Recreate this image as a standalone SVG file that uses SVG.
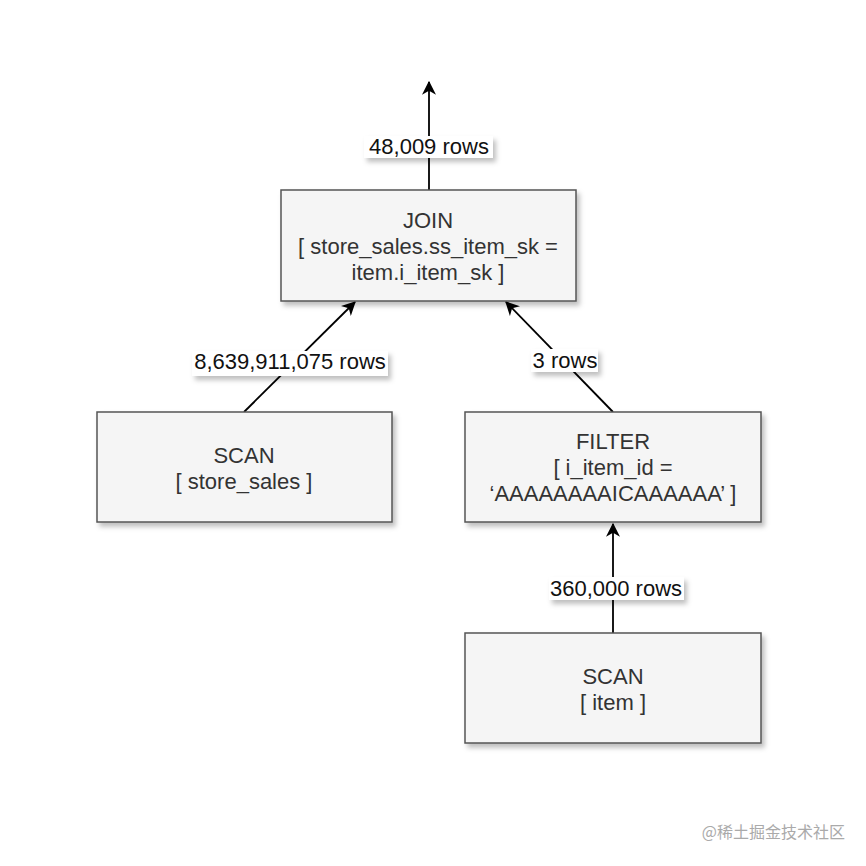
<svg xmlns="http://www.w3.org/2000/svg" width="866" height="866" viewBox="0 0 866 866">
<style>
.box{fill:#f5f5f5;stroke:#555;stroke-width:1.5}
.t{font-family:"Liberation Sans",Arial,sans-serif;font-size:22px;fill:#333;text-anchor:middle}
.lb{fill:#fff}
.lt{font-family:"Liberation Sans",Arial,sans-serif;font-size:22px;fill:#111;text-anchor:middle}
.e{stroke:#000;stroke-width:1.8;fill:none;marker-end:url(#ah)}
</style>
<defs>
<filter id="sh" x="-10%" y="-10%" width="130%" height="140%">
<feDropShadow dx="3" dy="4" stdDeviation="2.5" flood-color="#000" flood-opacity="0.25"/>
</filter>
<marker id="ah" viewBox="0 0 12 12" refX="11" refY="6" markerWidth="14" markerHeight="14" markerUnits="userSpaceOnUse" orient="auto">
<path d="M0,0 L12,6 L0,12 L3.5,6 Z" fill="#000"/>
</marker>
</defs>
<rect width="866" height="866" fill="#fff"/>
<g id="connectors">
<line class="e" x1="429" y1="190" x2="429" y2="82"/>
<line class="e" x1="244" y1="412" x2="355" y2="302"/>
<line class="e" x1="613" y1="412" x2="506" y2="302"/>
<line class="e" x1="613" y1="633" x2="613" y2="524"/>
<g filter="url(#sh)">
<rect class="lb" x="364" y="136" width="129" height="22"/>
<rect class="lb" x="192" y="351" width="196" height="25"/>
<rect class="lb" x="531" y="349" width="67" height="23"/>
<rect class="lb" x="549" y="577" width="135" height="23"/>
</g>
<text class="lt" x="429" y="154">48,009 rows</text>
<text class="lt" x="290" y="369">8,639,911,075 rows</text>
<text class="lt" x="565" y="368">3 rows</text>
<text class="lt" x="616" y="596">360,000 rows</text>
</g>
<g id="join">
<rect class="box" x="281" y="190" width="295" height="111" filter="url(#sh)"/>
<text class="t" x="428" y="228">JOIN</text>
<text class="t" x="428" y="254">[ store_sales.ss_item_sk =</text>
<text class="t" x="428" y="280">item.i_item_sk ]</text>
</g>
<g id="scan_store_sales">
<rect class="box" x="97" y="412" width="295" height="110" filter="url(#sh)"/>
<text class="t" x="244" y="463">SCAN</text>
<text class="t" x="244" y="489">[ store_sales ]</text>
</g>
<g id="filter">
<rect class="box" x="465" y="412" width="296" height="110" filter="url(#sh)"/>
<text class="t" x="613" y="449">FILTER</text>
<text class="t" x="613" y="475">[ i_item_id =</text>
<text class="t" x="613" y="501">‘AAAAAAAAICAAAAAA’ ]</text>
</g>
<g id="scan_item">
<rect class="box" x="465" y="633" width="296" height="110" filter="url(#sh)"/>
<text class="t" x="613" y="684">SCAN</text>
<text class="t" x="613" y="710">[ item ]</text>
</g>
<text x="845" y="838" font-family="'Noto Sans CJK SC',sans-serif" font-size="16" fill="#aaa" text-anchor="end">@稀土掘金技术社区</text>
</svg>
